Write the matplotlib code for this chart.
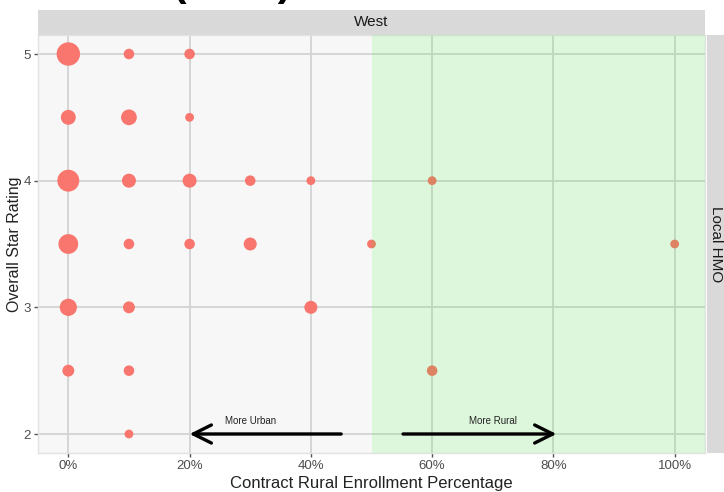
import numpy as np
import matplotlib
matplotlib.use("Agg")
import matplotlib.pyplot as plt
from matplotlib.patches import Rectangle

plt.rcParams['font.family'] = ['Liberation Sans', 'DejaVu Sans']

# Contract counts at each (rural enrollment %, star rating) combination
rural_pct = [0, 10, 20,
             0, 10, 20,
             0, 10, 20, 30, 40, 60,
             0, 10, 20, 30, 50, 100,
             0, 10, 40,
             0, 10, 60,
             10]
star_rating = [5, 5, 5,
               4.5, 4.5, 4.5,
               4, 4, 4, 4, 4, 4,
               3.5, 3.5, 3.5, 3.5, 3.5, 3.5,
               3, 3, 3,
               2.5, 2.5, 2.5,
               2]
n_contracts = [20, 2, 2,
               6, 7, 1,
               17, 5, 5, 2, 1, 1,
               13, 2, 2, 4, 1, 1,
               9, 3, 4,
               3, 2, 2,
               1]

x_ticks = [0, 20, 40, 60, 80, 100]
x_tick_labels = ["0%", "20%", "40%", "60%", "80%", "100%"]
y_ticks = [2, 3, 4, 5]
y_tick_labels = ["2", "3", "4", "5"]

DPI = 100
W, H = 724, 492
fig = plt.figure(figsize=(W / DPI, H / DPI), dpi=DPI)
fig.patch.set_facecolor("white")

# panel geometry in pixels
pl, pr, pt, pb = 38, 705, 35, 453
ax = fig.add_axes([pl / W, 1 - pb / H, (pr - pl) / W, (pb - pt) / H])
ax.set_facecolor("#f7f7f7")
ax.set_xlim(-5, 105)
ax.set_ylim(1.85, 5.15)

ax.set_xticks(x_ticks)
ax.set_xticklabels(x_tick_labels)
ax.set_yticks(y_ticks)
ax.set_yticklabels(y_tick_labels)
ax.grid(True, color="#d3d3d3", lw=1.3, zorder=0)
ax.set_axisbelow(True)
ax.tick_params(axis="both", length=3, width=1, color="#555555",
               labelcolor="#4d4d4d", labelsize=9.5, pad=2)
for sp in ax.spines.values():
    sp.set_color("#e2e2e2")
    sp.set_linewidth(1)

# point sizes: radius grows with sqrt(count)
cnt = np.array(n_contracts, dtype=float)
rmin, rmax = 4.4, 11.7
r_px = rmin + (rmax - rmin) * (np.sqrt(cnt) - 1) / (np.sqrt(cnt.max()) - 1)
sizes = (2 * r_px * 72 / DPI) ** 2
ax.scatter(rural_pct, star_rating, s=sizes, color="#F8766D", edgecolors="none",
           zorder=3)

# rural region shading
ax.add_patch(Rectangle((50, 1.85), 55, 3.3, facecolor="#00ff00", alpha=0.1,
                       edgecolor="none", zorder=4))

# direction arrows
ax.annotate("", xy=(20, 2), xytext=(45, 2),
            arrowprops=dict(arrowstyle="->,head_length=1.3,head_width=0.65",
                            lw=2.4, color="black", mutation_scale=10,
                            shrinkA=0, shrinkB=0), zorder=5)
ax.annotate("", xy=(80.5, 2), xytext=(55.2, 2),
            arrowprops=dict(arrowstyle="->,head_length=1.3,head_width=0.65",
                            lw=2.4, color="black", mutation_scale=10,
                            shrinkA=0, shrinkB=0), zorder=5)
ax.text(30, 2.1, "More Urban", ha="center", va="center", fontsize=7,
        color="#222222", zorder=5)
ax.text(70, 2.1, "More Rural", ha="center", va="center", fontsize=7,
        color="#222222", zorder=5)

ax.set_xlabel("Contract Rural Enrollment Percentage", fontsize=12,
              color="#222222", labelpad=3)
ax.set_ylabel("Overall Star Rating", fontsize=11.5, color="#222222",
              labelpad=1)

# facet strips
top_strip = Rectangle((pl / W, 1 - pt / H), (pr - pl) / W, 25 / H,
                      transform=fig.transFigure, facecolor="#d9d9d9",
                      edgecolor="none")
fig.patches.append(top_strip)
fig.text((pl + pr) / 2 / W, 1 - (pt - 12.5) / H, "West", ha="center",
         va="center", fontsize=11, color="#1a1a1a")

right_strip = Rectangle((707 / W, 1 - pb / H), 25 / W, (pb - pt) / H,
                        transform=fig.transFigure, facecolor="#d9d9d9",
                        edgecolor="none")
fig.patches.append(right_strip)
fig.text(716.5 / W, 1 - (pb + pt) / 2 / H, "Local HMO", ha="center",
         va="center", rotation=-90, fontsize=11, color="#1a1a1a")

# title (sits mostly above the canvas)
fig.text(173 / W, 1 + 4.0 / H, "(2019)", ha="left", va="baseline",
         fontsize=29.5, fontweight="bold", color="black")

fig.savefig("out.png", dpi=DPI)
